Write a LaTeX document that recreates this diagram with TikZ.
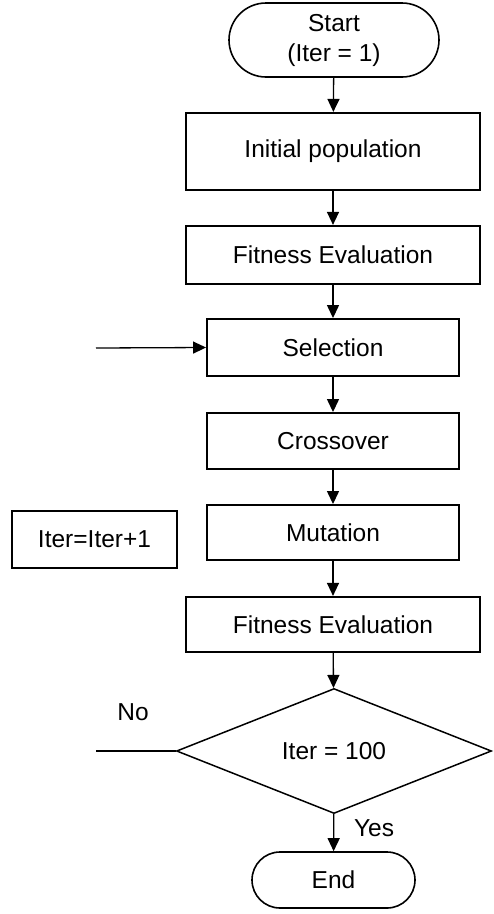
\documentclass[tikz,border=0pt]{standalone}
\usepackage{fontspec}
\setmainfont{Liberation Sans}
\usetikzlibrary{arrows.meta,shapes.geometric}
\begin{document}
\begin{tikzpicture}[x=1pt,y=-1pt,
  every node/.style={font=\fontsize{24.5}{30}\selectfont, inner sep=0pt},
  procbox/.style={draw, line width=2.2pt, rectangle},
  term/.style={draw, line width=1.6pt, rectangle},
  decide/.style={draw, line width=1.5pt, diamond, aspect=2.52, minimum width=315pt, minimum height=125pt},
  flow/.style={line width=1.3pt, -{Triangle[length=13pt,width=12pt]}},
  plain/.style={line width=1.3pt}]
\useasboundingbox (0,0) rectangle (494,914);
\node[term, rounded corners=37pt, minimum width=210pt, minimum height=74pt, align=center] (start) at (334,40) {Start\\(Iter = 1)};
\node[procbox, minimum width=294pt, minimum height=77pt] (init) at (333,151.5) {Initial population};
\node[procbox, minimum width=294pt, minimum height=58pt] (fit1) at (333,255) {Fitness Evaluation};
\node[procbox, line width=1.9pt, minimum width=252pt, minimum height=57pt] (sel) at (333,347.5) {Selection};
\node[procbox, line width=1.9pt, minimum width=252pt, minimum height=56pt] (cross) at (333,441) {Crossover};
\node[procbox, line width=1.9pt, minimum width=252pt, minimum height=55pt] (mut) at (333,532.5) {Mutation};
\node[procbox, minimum width=165pt, minimum height=57pt] (iter) at (94.5,539.5) {Iter=Iter+1};
\node[procbox, minimum width=294pt, minimum height=55pt] (fit2) at (333,624.5) {Fitness Evaluation};
\node[decide] (dec) at (334,751) {Iter = 100};
\node[term, rounded corners=28pt, minimum width=163pt, minimum height=56pt] (end) at (333.5,880) {End};
\node (no) at (133,712) {No};
\node (yes) at (374,828) {Yes};
\coordinate (sin) at (96,348);
\coordinate (nout) at (96,751);
\draw[flow] (start) -- (init);
\draw[flow] (init) -- (fit1);
\draw[flow] (fit1) -- (sel);
\draw[flow] (sel) -- (cross);
\draw[flow] (cross) -- (mut);
\draw[flow] (mut) -- (fit2);
\draw[flow] (fit2) -- (dec);
\draw[flow] (dec) -- (end);
\draw[flow] (sin) -- (sel.west);
\draw[plain] (dec.west) -- (nout);
\end{tikzpicture}
\end{document}
